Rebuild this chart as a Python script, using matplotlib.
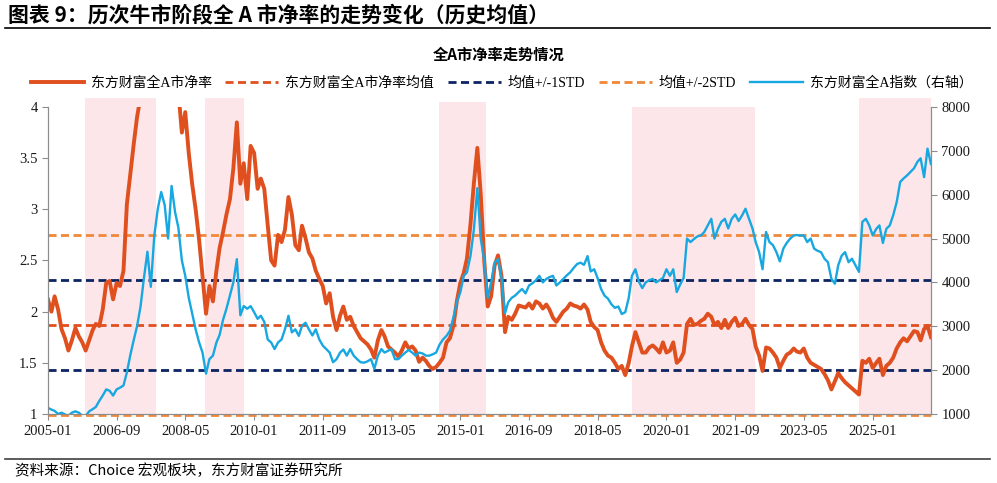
import pandas as pd
import matplotlib
matplotlib.use("Agg")
import matplotlib.pyplot as plt
from matplotlib.lines import Line2D

# monthly readings, 2005-01 onwards
pb = [2.12, 2.00, 2.15, 2.02, 1.83, 1.74, 1.62, 1.72, 1.84, 1.76,
      1.70, 1.62, 1.72, 1.82, 1.88, 1.86, 2.02, 2.28, 2.30, 2.12,
      2.28, 2.25, 2.40, 3.05, 3.35, 3.65, 3.90, 4.10, 4.60, 5.20,
      5.80, 6.40, 6.80, 6.20, 5.60, 5.20, 4.80, 4.50, 4.15, 3.75,
      3.95, 3.55, 3.25, 3.00, 2.70, 2.35, 1.98, 2.25, 2.10, 2.40,
      2.62, 2.78, 2.95, 3.10, 3.40, 3.85, 3.25, 3.45, 3.10, 3.62,
      3.55, 3.20, 3.30, 3.20, 2.85, 2.50, 2.45, 2.75, 2.68, 2.80,
      3.12, 2.95, 2.65, 2.60, 2.84, 2.72, 2.58, 2.52, 2.40, 2.32,
      2.25, 2.08, 2.18, 1.95, 1.82, 1.96, 2.05, 1.92, 1.95, 1.86,
      1.80, 1.74, 1.71, 1.68, 1.63, 1.55, 1.72, 1.82, 1.76, 1.66,
      1.63, 1.60, 1.56, 1.62, 1.70, 1.64, 1.66, 1.62, 1.51, 1.55,
      1.52, 1.47, 1.44, 1.46, 1.50, 1.55, 1.70, 1.74, 1.86, 2.10,
      2.28, 2.38, 2.52, 2.85, 3.25, 3.60, 3.15, 2.50, 2.05, 2.15,
      2.45, 2.55, 2.35, 1.80, 1.95, 1.92, 1.98, 2.06, 2.05, 2.04,
      2.08, 2.03, 2.10, 2.08, 2.03, 2.07, 2.02, 1.94, 1.90, 1.95,
      2.00, 2.03, 2.08, 2.06, 2.05, 2.03, 2.07, 2.02, 1.90, 1.85,
      1.82, 1.70, 1.62, 1.57, 1.55, 1.50, 1.44, 1.47, 1.38, 1.50,
      1.66, 1.80, 1.70, 1.60, 1.60, 1.65, 1.67, 1.64, 1.60, 1.70,
      1.60, 1.62, 1.70, 1.50, 1.53, 1.60, 1.88, 1.93, 1.87, 1.88,
      1.91, 1.93, 1.98, 1.95, 1.87, 1.90, 1.84, 1.92, 1.84, 1.90,
      1.94, 1.86, 1.88, 1.93, 1.87, 1.83, 1.66, 1.57, 1.42, 1.65,
      1.64, 1.60, 1.55, 1.45, 1.52, 1.58, 1.60, 1.64, 1.61, 1.60,
      1.64, 1.55, 1.50, 1.48, 1.46, 1.44, 1.39, 1.33, 1.24, 1.32,
      1.40, 1.35, 1.31, 1.28, 1.25, 1.22, 1.19, 1.52, 1.50, 1.54,
      1.45, 1.50, 1.54, 1.38, 1.47, 1.50, 1.55, 1.64, 1.70, 1.74,
      1.71, 1.76, 1.81, 1.80, 1.72, 1.83, 1.86, 1.75]

idx = [1140, 1100, 1070, 1000, 1030, 990, 960, 1030, 1060, 1030,
       960, 955, 1060, 1110, 1160, 1300, 1420, 1560, 1530, 1420,
       1560, 1600, 1650, 1950, 2350, 2700, 3000, 3450, 4100, 4700,
       3900, 5070, 5680, 6060, 5760, 5000, 6200, 5600, 5250, 4500,
       4150, 3650, 3300, 2930, 2630, 2400, 1920, 2250, 2330, 2630,
       2800, 3150, 3400, 3700, 4000, 4530, 3250, 3460, 3400, 3460,
       3320, 3170, 3240, 3100, 2700, 2630, 2480, 2630, 2700, 2930,
       3240, 2860, 2930, 2780, 3010, 3080, 2930, 2790, 2930, 2700,
       2560, 2480, 2400, 2180, 2250, 2400, 2470, 2330, 2480, 2330,
       2250, 2180, 2170, 2200, 2250, 2030, 2330, 2480, 2400, 2440,
       2480, 2250, 2250, 2330, 2400, 2460, 2400, 2330, 2400, 2380,
       2330, 2330, 2360, 2400, 2580, 2700, 2780, 2900, 3200, 3550,
       3770, 4150, 4230, 4600, 5200, 6150, 5000, 4500, 3650, 4000,
       4450, 4530, 4100, 3300, 3550, 3650, 3700, 3780, 3850, 3750,
       3930, 3980, 4050, 4150, 4000, 4080, 4120, 4150, 3930, 4000,
       4080, 4160, 4230, 4330, 4420, 4450, 4400, 4600, 4250, 4300,
       4100, 3850, 3700, 3630, 3500, 3420, 3450, 3280, 3320, 3650,
       4150, 4300, 4020, 3870, 4000, 4050, 4080, 4000, 4050, 4100,
       4300, 4150, 4300, 3780, 3950, 4100, 5000, 4920, 4990, 5050,
       5070, 5150, 5300, 5450, 5000, 5220, 5380, 5450, 5230, 5450,
       5550, 5400, 5530, 5680, 5450, 5230, 4920, 4690, 4300, 5150,
       4920, 4850, 4690, 4480, 4770, 4900, 5000, 5070, 5080, 5070,
       5070, 4920, 5000, 4770, 4720, 4690, 4540, 4460, 4080, 3970,
       4390, 4610, 4690, 4460, 4540, 4390, 4240, 5380, 5450, 5300,
       5070, 5220, 5300, 4900, 5220, 5300, 5530, 5830, 6290, 6370,
       6440, 6520, 6600, 6750, 6830, 6400, 7050, 6700]

dates = pd.date_range("2005-01-01", periods=len(pb), freq="MS")

pb_mean = 1.866
pb_std = 0.44

# bull market periods (shaded)
bull_start = ["2005-11-25", "2008-10-22", "2014-06-28", "2019-03-03", "2024-08-28"]
bull_end = ["2007-08-13", "2009-10-01", "2015-08-15", "2022-02-20", "2026-06-01"]
bull_top = [1.03, 1.03, 1.017, 1.0, 1.03]

tick_dates = pd.date_range("2005-01-01", "2025-01-01", freq="20MS")

c_pb = "#E0501F"
c_std1 = "#0C2461"
c_std2 = "#F0883A"
c_idx = "#17A7E1"
c_shade = "#FCE6EA"
c_axis = "#8C8C8C"

plt.rcParams['font.family'] = ['Liberation Serif', 'Noto Sans CJK SC']
cjk = ['Noto Sans CJK SC', 'DejaVu Sans']

fig = plt.figure(figsize=(9.97, 4.83), dpi=100)
ax = fig.add_axes([0.0481, 0.1429, 0.8857, 0.6356])
ax2 = ax.twinx()

for s, e, t in zip(bull_start, bull_end, bull_top):
    ax.axvspan(pd.Timestamp(s), pd.Timestamp(e), ymin=0, ymax=t,
               color=c_shade, lw=0, zorder=0, clip_on=False)

dash = (2.9, 1.6)
h_mean = ax.axhline(pb_mean, color=c_pb, lw=2, dashes=dash, zorder=2, clip_on=False)
h_s1 = ax.axhline(pb_mean + pb_std, color=c_std1, lw=2, dashes=dash, zorder=2, clip_on=False)
ax.axhline(pb_mean - pb_std, color=c_std1, lw=2, dashes=dash, zorder=2, clip_on=False)
h_s2 = ax.axhline(pb_mean + 2 * pb_std, color=c_std2, lw=2, dashes=dash, zorder=2, clip_on=False)
ax.axhline(pb_mean - 2 * pb_std, color=c_std2, lw=2, dashes=dash, zorder=2, clip_on=False)
h_pb, = ax.plot(dates, pb, color=c_pb, lw=2.8, zorder=3, solid_joinstyle='round')
h_idx, = ax2.plot(dates, idx, color=c_idx, lw=1.7)

ax.set_xlim(dates[0], dates[-1])
ax.set_ylim(1, 4)
ax2.set_ylim(1000, 8000)

ax.set_yticks([1, 1.5, 2, 2.5, 3, 3.5, 4])
ax.set_yticklabels(["1", "1.5", "2", "2.5", "3", "3.5", "4"])
ax2.set_yticks(range(1000, 8001, 1000))
ax.set_xticks(tick_dates)
ax.set_xticklabels([d.strftime("%Y-%m") for d in tick_dates])

for a in (ax, ax2):
    a.spines['top'].set_visible(False)
    for sp in ('left', 'right', 'bottom'):
        a.spines[sp].set_color(c_axis)
    a.tick_params(direction='out', length=4, color=c_axis, labelsize=10.5,
                  labelcolor='#1a1a1a', width=0.8)
ax.tick_params(axis='x', pad=4)

fig.legend([h_pb, h_mean, h_s1, h_s2, h_idx],
           ["东方财富全A市净率", "东方财富全A市净率均值", "均值+/-1STD",
            "均值+/-2STD", "东方财富全A指数（右轴）"],
           loc='center', bbox_to_anchor=(0.503, 0.828), ncol=5, frameon=False,
           fontsize=10, handlelength=3.8, handletextpad=0.5, columnspacing=1.0)

fig.text(0.008, 0.968, "图表 9：历次牛市阶段全 A 市净率的走势变化（历史均值）",
         fontsize=15, fontweight='bold', family=cjk, va='center', ha='left')
fig.add_artist(Line2D([0.005, 0.993], [0.942, 0.942], color='black', lw=1.2,
                      transform=fig.transFigure))
fig.text(0.5, 0.886, "全A市净率走势情况", fontsize=11, fontweight='bold',
         family=cjk, va='center', ha='center')
fig.add_artist(Line2D([0.005, 0.993], [0.049, 0.049], color='#404040', lw=1.2,
                      transform=fig.transFigure))
fig.text(0.015, 0.026, "资料来源：Choice 宏观板块，东方财富证券研究所",
         fontsize=10.5, family=cjk, va='center', ha='left')

fig.savefig("out.png", dpi=100)
